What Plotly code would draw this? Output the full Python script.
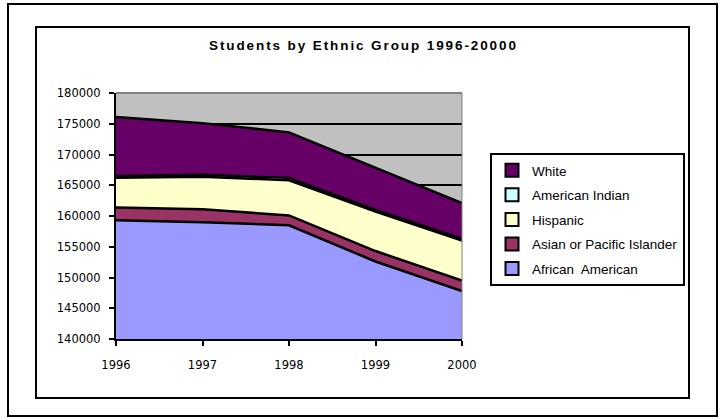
import plotly.graph_objects as go

years = [1996, 1997, 1998, 1999, 2000]
series_names = ["African  American", "Asian or Pacific Islander", "Hispanic", "American Indian", "White"]
african_american = [159300, 159000, 158500, 152600, 147800]
asian_pacific = [2100, 2100, 1600, 1700, 1700]
hispanic = [4800, 5300, 5700, 6400, 6500]
american_indian = [300, 300, 400, 300, 300]
white = [9600, 8400, 7400, 6800, 5800]
y_ticks = [140000, 145000, 150000, 155000, 160000, 165000, 170000, 175000, 180000]
title_text = "Students by Ethnic Group 1996-20000"

colors = ["#9999FF", "#993366", "#FFFFCC", "#CCFFFF", "#660066"]
values = [african_american, asian_pacific, hispanic, american_indian, white]

W, H = 722, 419
L, R, T, B = 116, 462, 93, 339

def px(x):
    return (x - L) / (R - L)

def py(y):
    return (B - y) / (B - T)

fig = go.Figure()
n = len(series_names)
for i, (name, vals, col) in enumerate(zip(series_names, values, colors)):
    fig.add_trace(go.Scatter(
        x=years, y=vals, name=name, stackgroup="one", mode="lines",
        line=dict(color="black", width=2.5), fillcolor=col,
        showlegend=False, legendgroup=str(i),
    ))
# legend glyphs (square swatches like the original)
for i, (name, col) in enumerate(zip(series_names, colors)):
    fig.add_trace(go.Scatter(
        x=[None], y=[None], name=name, mode="markers",
        marker=dict(symbol="square", size=13, color=col, line=dict(color="black", width=2)),
        showlegend=True, legendgroup=str(i), legendrank=n - i,
    ))

fig.update_layout(
    width=W, height=H,
    margin=dict(l=L, r=W - R, t=T, b=H - B, pad=0),
    paper_bgcolor="white", plot_bgcolor="#C0C0C0",
    font=dict(family="DejaVu Sans", size=11, color="black"),
    showlegend=True,
    legend=dict(
        x=px(490), y=py(153), xanchor="left", yanchor="top",
        bordercolor="black", borderwidth=2, bgcolor="white",
        traceorder="grouped", tracegroupgap=4,
        font=dict(family="Liberation Sans", size=13.5, color="black"),
        itemwidth=30,
    ),
    annotations=[dict(
        text='<span style="letter-spacing:1.9px">' + title_text + '</span>',
        x=px(363), y=py(46), xref="paper", yref="paper",
        showarrow=False, xanchor="center", yanchor="middle",
        font=dict(family="Liberation Sans", size=13.5, color="black", weight="bold"),
    )],
    shapes=[
        dict(type="rect", xref="paper", yref="paper", x0=px(8), x1=px(717), y0=py(4), y1=py(416),
             line=dict(color="black", width=2), layer="below"),
        dict(type="rect", xref="paper", yref="paper", x0=px(36), x1=px(689), y0=py(27), y1=py(398),
             line=dict(color="black", width=2), layer="below"),
        dict(type="line", xref="paper", yref="paper", x0=0, x1=1, y0=1, y1=1,
             line=dict(color="#808080", width=2)),
        dict(type="line", xref="paper", yref="paper", x0=1, x1=1, y0=0, y1=1,
             line=dict(color="#808080", width=1)),
    ],
)

fig.update_xaxes(
    range=[1996, 2000], tickmode="array", tickvals=years, ticktext=[str(y) for y in years],
    showgrid=False, zeroline=False, showline=True, linecolor="black", linewidth=2,
    ticks="outside", ticklen=5, tickwidth=2, tickcolor="black", ticklabelstandoff=9,
    tickfont=dict(family="DejaVu Sans", size=11.5),
)
fig.update_yaxes(
    range=[140000, 180000], tickmode="array", tickvals=y_ticks, ticktext=[str(v) for v in y_ticks],
    showgrid=True, gridcolor="black", gridwidth=1.5, zeroline=False,
    showline=True, linecolor="black", linewidth=2,
    ticks="outside", ticklen=5, tickwidth=2, tickcolor="black", ticklabelstandoff=6,
    tickfont=dict(family="DejaVu Sans", size=11.5),
)

fig.write_html("out.html", config={"displayModeBar": False},
               post_script="document.body.style.margin='0';")
